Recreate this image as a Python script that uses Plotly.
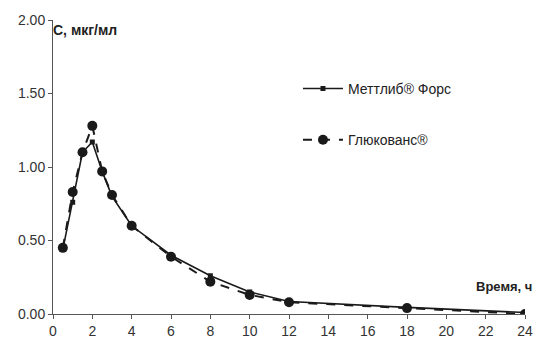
import plotly.graph_objects as go

time_h = [0.5, 1, 1.5, 2, 2.5, 3, 4, 6, 8, 10, 12, 18, 24]
mettlib = [0.44, 0.76, 1.10, 1.17, 0.97, 0.80, 0.60, 0.40, 0.26, 0.15, 0.085, 0.045, 0.01]
glucovance = [0.45, 0.83, 1.10, 1.28, 0.97, 0.81, 0.60, 0.39, 0.22, 0.13, 0.08, 0.04, 0.00]
x_ticks = list(range(0, 25, 2))
y_ticks = [0, 0.5, 1.0, 1.5, 2.0]

fig = go.Figure()
fig.add_trace(go.Scatter(
    x=time_h, y=mettlib, name="Меттлиб® Форс", mode="lines+markers",
    line=dict(color="#1a1a1a", width=1.6),
    marker=dict(symbol="square", size=5, color="#1a1a1a"),
    legendgroup="a"))
fig.add_trace(go.Scatter(
    x=time_h, y=glucovance, name="Глюкованс®", mode="lines+markers",
    line=dict(color="#1a1a1a", width=2, dash="dash"),
    marker=dict(symbol="circle", size=10, color="#1a1a1a"),
    legendgroup="b"))

fig.update_layout(
    width=542, height=348,
    margin=dict(l=53, r=9, t=20, b=33),
    paper_bgcolor="white", plot_bgcolor="white",
    font=dict(family="Liberation Sans, Arial", color="#333333", size=14),
    showlegend=True,
    legend=dict(x=0.519, y=0.82, xanchor="left", yanchor="top",
                font=dict(size=14, color="#222222"),
                tracegroupgap=30, itemwidth=40,
                bgcolor="rgba(0,0,0,0)"),
    xaxis=dict(range=[0, 24], tickvals=x_ticks, showgrid=False, zeroline=False,
               showline=True, linecolor="#555555", linewidth=1,
               ticks="outside", ticklen=4, tickcolor="#555555",
               tickfont=dict(size=14, color="#333333")),
    yaxis=dict(range=[0, 2.0], tickvals=y_ticks, tickformat=".2f",
               showgrid=False, zeroline=False,
               showline=True, linecolor="#555555", linewidth=1,
               ticks="outside", ticklen=4, tickcolor="#555555",
               tickfont=dict(size=14, color="#333333")),
    annotations=[
        dict(text="<b>C, мкг/мл</b>", xref="paper", yref="paper", x=-0.004, y=0.965,
             xanchor="left", yanchor="middle", showarrow=False,
             font=dict(size=14, color="#222222")),
        dict(text="<b>Время, ч</b>", xref="paper", yref="paper", x=1.02, y=0.095,
             xanchor="right", yanchor="middle", showarrow=False,
             font=dict(size=13, color="#222222")),
    ],
)
fig.write_html("out.html")
